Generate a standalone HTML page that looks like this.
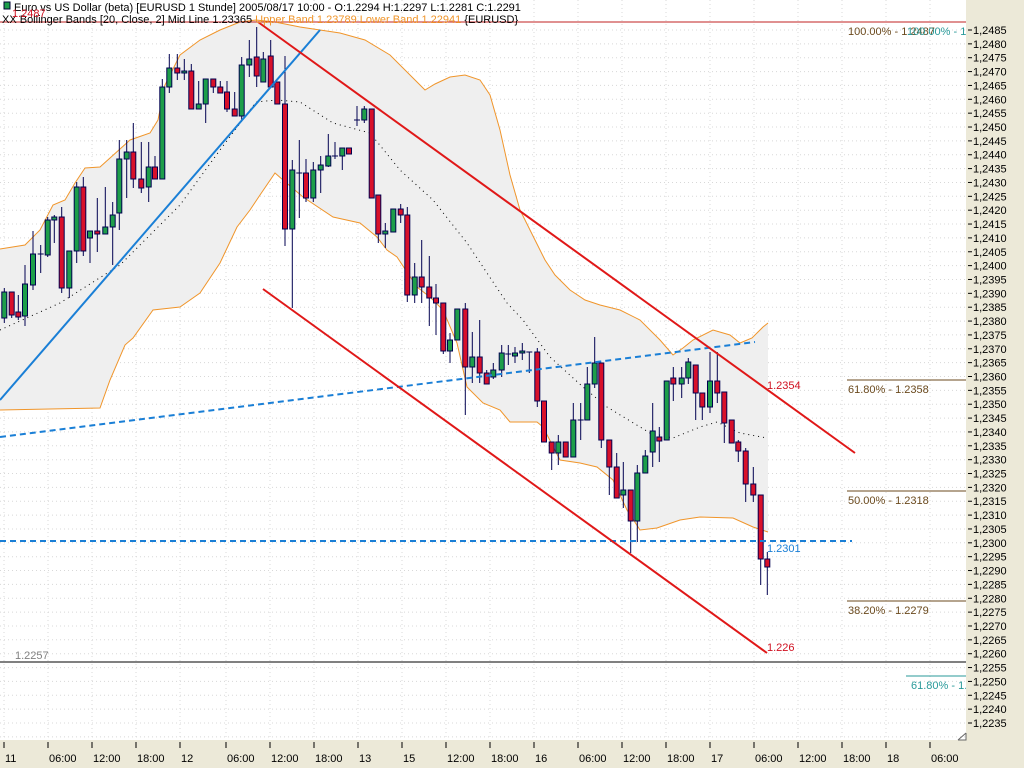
<!DOCTYPE html>
<html><head><meta charset="utf-8"><style>
html,body{margin:0;padding:0;background:#fff;width:1024px;height:768px;overflow:hidden}
svg{display:block}
text{font-family:"Liberation Sans",sans-serif;font-size:11px}
</style></head><body>
<svg id="s" width="1024" height="768" xmlns="http://www.w3.org/2000/svg">
<rect width="1024" height="768" fill="#fff"/>
<g id="grid"></g>
<polygon id="band" fill="#efefef" stroke="none"/>
<polyline id="up" fill="none" stroke="#f0952a" stroke-width="1"/>
<polyline id="lo" fill="none" stroke="#f0952a" stroke-width="1"/>
<polyline id="mid" fill="none" stroke="#000" stroke-width="1" stroke-dasharray="1,4"/>
<line x1="0" y1="22" x2="966" y2="22" stroke="#c02020" stroke-width="1"/>
<line x1="0" y1="662" x2="966" y2="662" stroke="#808080" stroke-width="2"/>
<text x="15" y="659" fill="#808080">1.2257</text>
<g id="candles"></g>
<line x1="0" y1="400" x2="320" y2="30" stroke="#1a7fd6" stroke-width="2"/>
<line x1="0" y1="437" x2="755" y2="342" stroke="#1a7fd6" stroke-width="2" stroke-dasharray="6,4"/>
<line x1="0" y1="541" x2="852" y2="541" stroke="#1a7fd6" stroke-width="2" stroke-dasharray="6,4"/>
<text x="767" y="552" fill="#1a7fd6">1.2301</text>
<line x1="258" y1="22" x2="855" y2="453" stroke="#e01818" stroke-width="2"/>
<line x1="263" y1="289" x2="767" y2="653" stroke="#e01818" stroke-width="2"/>
<text x="767" y="389" fill="#d01020">1.2354</text>
<text x="767" y="651" fill="#d01020">1.226</text>
<g stroke="#6b4a1e" stroke-width="1">
<line x1="847" y1="380" x2="966" y2="380"/><line x1="847" y1="491" x2="966" y2="491"/><line x1="847" y1="601" x2="966" y2="601"/>
</g>
<g fill="#6b4a1e">
<text x="848" y="393">61.80% - 1.2358</text>
<text x="848" y="504">50.00% - 1.2318</text>
<text x="848" y="614">38.20% - 1.2279</text>
<text x="848" y="35">100.00% - 1.2487</text>
</g>
<text x="907" y="35" fill="#2a9a9a">100.00% - 1</text>
<line x1="906" y1="676" x2="966" y2="676" stroke="#2a9a9a"/>
<text x="911" y="689" fill="#2a9a9a">61.80% - 1.2</text>
<rect x="4" y="2" width="6" height="7" fill="#1e9e4a" stroke="#003"/>
<text x="14" y="11" fill="#000">Euro vs US Dollar (beta) [EURUSD  1 Stunde] 2005/08/17 10:00 - O:1.2294 H:1.2297 L:1.2281 C:1.2291</text>
<text x="2" y="23" fill="#000">XX Bollinger Bands [20, Close, 2] Mid Line 1.23365 <tspan fill="#f0952a">Upper Band 1.23789 Lower Band 1.22941</tspan> {EURUSD}</text>
<text x="12" y="17" fill="#d01020" font-size="10">1.2487</text>
<rect x="966" y="0" width="58" height="768" fill="#ece9d8"/>
<rect x="0" y="740" width="1024" height="28" fill="#ece9d8"/>
<g id="ax"></g>
<path d="M958 740 L966 733 M958 740 H966 V733" stroke="#666" fill="none"/>
</svg>
<script>
var NS="http://www.w3.org/2000/svg",s=document.getElementById('s');
function el(p,t,a,txt){var e=document.createElementNS(NS,t);for(var k in a)e.setAttribute(k,a[k]);if(txt)e.textContent=txt;p.appendChild(e);return e;}
var g=document.getElementById('grid');
for(var y=30;y<740;y+=13.86)el(g,'line',{x1:0,x2:966,y1:y.toFixed(1),y2:y.toFixed(1),stroke:'#d8d8d8','stroke-dasharray':'1,3'});
var tx=[4,48,92,136,180,226,270,314,358,402,446,490,534,578,622,666,710,754,798,842,886,930];
var tl=['11','06:00','12:00','18:00','12','06:00','12:00','18:00','13','15','12:00','18:00','16','06:00','12:00','18:00','17','06:00','12:00','18:00','18','06:00'];
for(var i=0;i<tx.length;i++)el(g,'line',{x1:tx[i],x2:tx[i],y1:0,y2:740,stroke:'#d8d8d8','stroke-dasharray':'1,3'});
var ax=document.getElementById('ax');
for(var i=0;i<tx.length;i++){el(ax,'line',{x1:tx[i],x2:tx[i],y1:742,y2:748,stroke:'#000'});el(ax,'text',{x:tx[i]+1,y:762,fill:'#000'},tl[i]);}
for(var k=0;k<=50;k++){var p=1.2485-k*0.0005,y=30+k*13.86;el(ax,'line',{x1:968,x2:972,y1:y,y2:y,stroke:'#000'});el(ax,'text',{x:973,y:y+4,fill:'#000'},p.toFixed(4).replace('.',','));}
var up=[[0,249],[25,245],[40,230],[53,205],[65,200],[75,183],[85,168],[100,167],[130,140],[150,133],[158,120],[165,85],[180,55],[200,40],[220,30],[240,22],[256,20],[275,22],[300,27],[340,33],[365,40],[390,55],[415,80],[425,90],[435,84],[450,77],[465,75],[480,80],[490,95],[500,130],[510,175],[520,210],[535,240],[545,260],[555,275],[570,290],[585,300],[600,305],[620,310],[640,320],[660,340],[673,355],[683,348],[693,340],[713,330],[730,335],[740,343],[752,338],[763,327],[768,323]];
var lo=[[0,410],[100,408],[110,380],[125,345],[133,338],[153,310],[180,307],[200,293],[220,263],[237,227],[250,210],[260,195],[275,173],[283,180],[303,197],[333,217],[360,223],[377,237],[387,250],[397,257],[417,287],[430,297],[443,310],[457,343],[467,387],[483,403],[500,410],[510,422],[537,422],[543,427],[560,460],[580,463],[597,467],[613,480],[627,510],[640,530],[657,528],[680,520],[700,517],[733,518],[753,527],[768,532]];
var mid=[[0,330],[60,303],[120,265],[180,205],[220,150],[256,102],[277,100],[300,102],[333,123],[370,133],[400,170],[433,200],[467,243],[507,303],[523,320],[550,357],[583,387],[607,407],[650,433],[673,438],[700,427],[717,422],[740,433],[767,438]];
function pts(a){return a.map(function(p){return p[0]+','+p[1]}).join(' ');}
document.getElementById('up').setAttribute('points',pts(up));
document.getElementById('lo').setAttribute('points',pts(lo));
document.getElementById('mid').setAttribute('points',pts(mid));
document.getElementById('band').setAttribute('points',pts(up)+' '+pts(lo.slice().reverse()));
var C=[[4.3,318,292,288,323],[11.7,292,315,292,318],[18.3,312,317,295,320],[25,316,284,265,326],[33,285,254,231,290],[40.7,254,254,245,273],[47.7,255,220,217,257],[54.3,220,217,215,243],[61.7,217,288,207,293],[69.3,288,251,251,298],[76.7,251,187,182,263],[83.3,187,251,177,256],[90,238,231,231,263],[97.3,231,234,198,252],[105.3,234,227,187,234],[112.7,227,215,202,265],[119.3,213,159,140,230],[126.7,159,152,140,198],[133.3,152,179,123,188],[141.3,179,188,142,193],[148.7,187,167,142,202],[155,167,179,156,179],[162.3,179,87,79,179],[169.3,87,68,54,93],[177.3,68,73,54,80],[184.3,73,71,59,80],[191.3,71,109,64,109],[198.7,109,104,81,109],[205.7,104,79,79,123],[213.3,79,87,79,93],[220.3,87,93,81,93],[227,92,109,81,112],[234.7,109,116,92,116],[241.7,116,65,57,120],[249.3,65,59,40,77],[256.7,57,76,27,87],[263.3,82,59,52,82],[270.7,56,87,40,88],[277.3,82,104,82,104],[285,104,229,56,246],[292.3,229,170,160,308],[299.3,173,173,140,218],[306,173,198,159,202],[313.3,198,170,162,202],[320.7,170,165,156,193],[328.3,166,156,134,167],[335,156,156,142,159],[342.3,156,148,148,170],[349,148,154,148,154],[357,120,120,106,126],[364.3,120,109,106,123],[371.7,109,198,109,198],[378.3,195,234,195,243],[385.3,234,231,223,248],[393.3,232,209,209,232],[400.7,209,215,204,223],[407.3,215,295,207,302],[414.7,295,277,263,303],[421.7,277,287,240,303],[429.3,287,298,256,326],[436,298,303,284,335],[443.3,303,351,303,354],[450,351,340,333,363],[457.3,340,309,309,340],[465.3,309,367,303,415],[472.3,367,357,332,383],[479.7,357,373,320,383],[486.7,373,384,370,384],[493.3,377,370,363,379],[501.7,370,353,345,377],[508.3,354,354,345,365],[515,356,353,347,363],[522.3,353,351,343,360],[529.3,352,352,352,373],[537.3,352,401,348,407],[544,401,442,401,442],[551.7,442,453,442,470],[558.3,453,442,435,465],[565.7,442,457,442,457],[573.3,457,420,403,457],[580.7,420,420,403,440],[587.3,420,384,367,420],[594.7,384,363,337,388],[601.3,363,440,363,448],[609.3,440,467,440,495],[616.7,467,498,453,498],[623.3,495,490,462,508],[630.7,490,521,490,553],[637.3,521,473,465,542],[645.3,473,456,450,473],[652.7,452,431,403,467],[659.3,437,441,427,462],[666.7,440,381,381,440],[673.3,378,384,367,401],[681.7,384,378,367,398],[688.3,378,362,358,384],[695.7,365,393,365,420],[702.3,393,407,393,420],[710,407,381,352,413],[717.3,381,393,352,403],[724.3,392,423,392,443],[731.7,420,443,420,443],[738.3,442,451,440,462],[745.7,451,484,448,502],[753.3,484,495,467,502],[760.7,495,559,495,585],[767.3,559,567,552,595]];
var cg=document.getElementById('candles');
C.forEach(function(c){var x=c[0],o=c[1],cl=c[2],h=c[3],l=c[4];
el(cg,'line',{x1:x,x2:x,y1:h,y2:l,stroke:'#000050','stroke-width':1});
var t=Math.min(o,cl),b=Math.max(o,cl);
if(b-t<1){el(cg,'line',{x1:x-3,x2:x+3,y1:t,y2:t,stroke:'#000050'});}
else el(cg,'rect',{x:x-2.5,y:t,width:5,height:b-t,fill:cl<o?'#1e9e4a':'#d8102a',stroke:'#000050','stroke-width':1});
});
</script>
</body></html>
